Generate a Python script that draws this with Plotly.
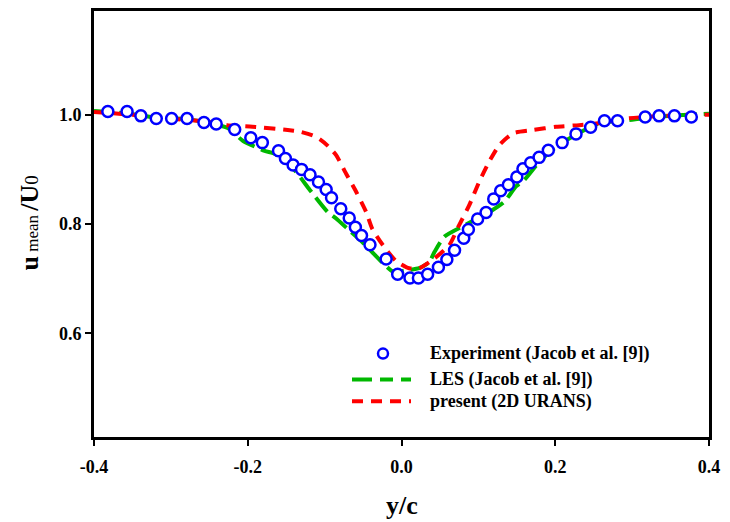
import plotly.graph_objects as go

# ---------------- data ----------------
exp_x = [-0.382, -0.357, -0.339, -0.319, -0.299, -0.279, -0.257, -0.241, -0.217, -0.196,
         -0.181, -0.160, -0.151, -0.141, -0.130, -0.119, -0.108, -0.098, -0.091, -0.079,
         -0.068, -0.060, -0.052, -0.041, -0.020, -0.005, 0.011, 0.022, 0.034, 0.048,
         0.059, 0.069, 0.081, 0.087, 0.099, 0.110, 0.120, 0.129, 0.139, 0.150,
         0.158, 0.168, 0.179, 0.191, 0.209, 0.227, 0.246, 0.264, 0.281, 0.317,
         0.335, 0.355, 0.377]
exp_y = [1.006, 1.006, 0.998, 0.993, 0.993, 0.993, 0.986, 0.983, 0.973, 0.958,
         0.949, 0.934, 0.920, 0.908, 0.900, 0.890, 0.877, 0.863, 0.848, 0.828,
         0.811, 0.794, 0.779, 0.762, 0.736, 0.708, 0.701, 0.701, 0.708, 0.721,
         0.735, 0.752, 0.774, 0.790, 0.809, 0.821, 0.846, 0.861, 0.872, 0.886,
         0.901, 0.912, 0.922, 0.935, 0.949, 0.965, 0.977, 0.989, 0.989, 0.996,
         0.998, 0.998, 0.996]

les_x = [-0.400, -0.360, -0.320, -0.280, -0.250, -0.225, -0.206, -0.178, -0.164, -0.140,
         -0.119, -0.096, -0.085, -0.070, -0.051, -0.026, -0.011, 0.010, 0.023, 0.036,
         0.043, 0.056, 0.084, 0.119, 0.134, 0.149, 0.158, 0.180, 0.205, 0.230,
         0.257, 0.300, 0.313, 0.350, 0.400]
les_y = [1.007, 1.003, 0.995, 0.992, 0.985, 0.975, 0.952, 0.934, 0.928, 0.900,
         0.862, 0.822, 0.810, 0.791, 0.767, 0.731, 0.713, 0.716, 0.719, 0.730,
         0.749, 0.777, 0.799, 0.826, 0.841, 0.869, 0.878, 0.915, 0.945, 0.966,
         0.984, 0.991, 0.993, 0.998, 1.002]

urans_x = [-0.400, -0.350, -0.300, -0.250, -0.227, -0.194, -0.148, -0.132, -0.115, -0.106,
           -0.095, -0.085, -0.072, -0.059, -0.046, -0.038, -0.024, -0.007, 0.010, 0.023,
           0.041, 0.062, 0.075, 0.088, 0.101, 0.114, 0.127, 0.145, 0.171, 0.201,
           0.231, 0.253, 0.292, 0.340, 0.400]
urans_y = [1.005, 1.000, 0.993, 0.987, 0.981, 0.978, 0.972, 0.969, 0.962, 0.955,
           0.942, 0.926, 0.892, 0.859, 0.822, 0.791, 0.761, 0.732, 0.719, 0.719,
           0.735, 0.761, 0.798, 0.834, 0.877, 0.914, 0.944, 0.966, 0.972, 0.978,
           0.981, 0.984, 0.993, 0.998, 1.000]

legend_labels = ["Experiment (Jacob et al. [9])", "LES (Jacob et al. [9])", "present (2D URANS)"]
x_ticks = [-0.4, -0.2, 0.0, 0.2, 0.4]
y_ticks = [0.6, 0.8, 1.0]

# ---------------- figure ----------------
FONT = "Times New Roman, Liberation Serif, serif"
BLUE = "#0000FF"
GREEN = "#00B800"
RED = "#FF0000"
W, H = 730, 522
ML, MR, MT, MB = 94, 21, 8, 85
PW, PH = W - ML - MR, H - MT - MB

def px2paper(px, py):
    return (px - ML) / PW, (H - MB - py) / PH

fig = go.Figure()
fig.add_trace(go.Scatter(x=les_x, y=les_y, mode="lines", showlegend=False,
                         line=dict(color=GREEN, width=4, dash="18px,7px", shape="spline", smoothing=0.6)))
fig.add_trace(go.Scatter(x=urans_x, y=urans_y, mode="lines", showlegend=False,
                         line=dict(color=RED, width=4, dash="11px,8px", shape="spline", smoothing=0.6)))
fig.add_trace(go.Scatter(x=exp_x, y=exp_y, mode="markers", showlegend=False,
                         marker=dict(symbol="circle", size=11, color="white",
                                     line=dict(color=BLUE, width=2.5))))

axis_common = dict(showgrid=False, zeroline=False, showline=True, linecolor="black",
                   linewidth=3, mirror=True, ticks="outside", ticklen=6, tickwidth=1.5,
                   tickcolor="black",
                   tickfont=dict(family=FONT, size=18, color="black", weight="bold"))

fig.update_xaxes(range=[-0.4, 0.4], tickvals=x_ticks,
                 ticktext=[f"{v:.1f}" for v in x_ticks], ticklabelstandoff=5, **axis_common)
fig.update_yaxes(range=[0.41, 1.19], tickvals=y_ticks,
                 ticktext=[f"{v:.1f}" for v in y_ticks], ticklabelstandoff=0, **axis_common)

annotations = []
shapes = []

# axis titles
xt, yt = px2paper(402, 506)
annotations.append(dict(xref="paper", yref="paper", x=xt, y=yt, xanchor="center", yanchor="middle",
                        text="<b>y/c</b>", showarrow=False,
                        font=dict(family=FONT, size=26, color="black")))
xt, yt = px2paper(30, 222)
annotations.append(dict(xref="paper", yref="paper", x=xt, y=yt, xanchor="center", yanchor="middle",
                        textangle=-90, showarrow=False,
                        text="<b>u</b><span style='font-size:17px'> mean </span><b>/U</b>"
                             "<span style='font-size:19px'>0</span>",
                        font=dict(family=FONT, size=26, color="black")))

# manual legend
rows_y = [353, 379, 401]
for lab, py in zip(legend_labels, rows_y):
    lx, ly = px2paper(428, py)
    annotations.append(dict(xref="paper", yref="paper", x=lx, y=ly, xanchor="left", yanchor="middle",
                            text=f"<b>{lab}</b>", showarrow=False,
                            font=dict(family=FONT, size=18, color="black")))
cx, cy = px2paper(383, rows_y[0])
shapes.append(dict(type="circle", xref="paper", yref="paper", xsizemode="pixel", ysizemode="pixel",
                   xanchor=cx, yanchor=cy, x0=-5, x1=5, y0=-5, y1=5,
                   line=dict(color=BLUE, width=2.5), fillcolor="white"))
for py, col, dash in [(rows_y[1], GREEN, "20px,8px,13px,8px"), (rows_y[2], RED, "11px,8px")]:
    x0, y0 = px2paper(352, py)
    x1, _ = px2paper(411, py)
    shapes.append(dict(type="line", xref="paper", yref="paper", x0=x0, x1=x1, y0=y0, y1=y0,
                       line=dict(color=col, width=4, dash=dash)))

fig.update_layout(width=W, height=H, margin=dict(l=ML, r=MR, t=MT, b=MB),
                  paper_bgcolor="white", plot_bgcolor="white",
                  annotations=annotations, shapes=shapes, showlegend=False)

fig.write_html("out.html")
